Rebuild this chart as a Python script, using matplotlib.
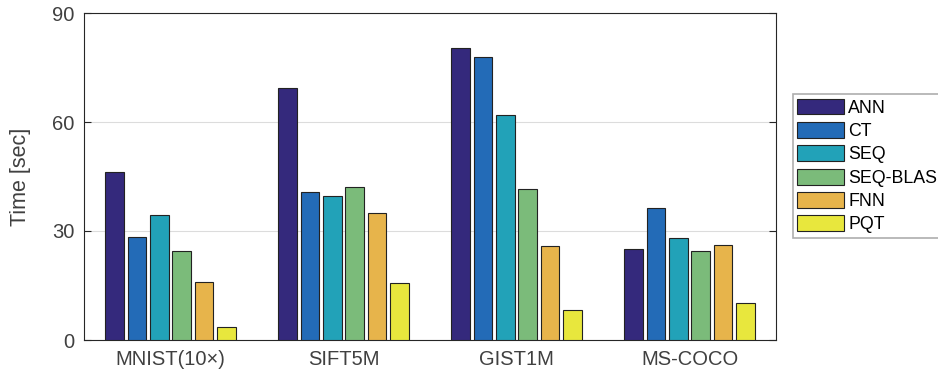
import numpy as np
import matplotlib
matplotlib.use("Agg")
import matplotlib.pyplot as plt

plt.rcParams['font.family'] = ['Liberation Sans', 'DejaVu Sans']

datasets = ["MNIST(10×)", "SIFT5M", "GIST1M", "MS-COCO"]
methods = ["ANN", "CT", "SEQ", "SEQ-BLAS", "FNN", "PQT"]
colors = ["#34297c", "#236bb7", "#22a2b8", "#7bbb7a", "#e7b44b", "#e8e73d"]

ann = [46.2, 69.4, 80.4, 25.0]
ct = [28.4, 40.7, 77.9, 36.3]
seq = [34.3, 39.6, 61.8, 28.0]
seq_blas = [24.6, 42.1, 41.5, 24.6]
fnn = [16.1, 34.9, 25.9, 26.1]
pqt = [3.5, 15.7, 8.3, 10.3]
series = [ann, ct, seq, seq_blas, fnn, pqt]

fig = plt.figure(figsize=(9.38, 3.70), dpi=100)
ax = fig.add_axes([84 / 938, 30 / 370, 692 / 938, 327 / 370])

x = np.arange(1, len(datasets) + 1)
slot = 0.775 / len(methods)
width = slot * 0.83
for i, (name, vals) in enumerate(zip(methods, series)):
    off = (i - (len(methods) - 1) / 2) * slot
    ax.bar(x + off, vals, width, color=colors[i], edgecolor="#222222",
           linewidth=0.8, label=name, zorder=3)

ax.set_xlim(0.5, 4.5)
ax.set_ylim(0, 90)
ax.set_yticks([0, 30, 60, 90])
ax.set_xticks(x)
ax.set_xticklabels(datasets)
ax.set_ylabel("Time [sec]", fontsize=15.5, color="#404040")
ax.yaxis.set_label_coords(-53 / 692, 0.5)
ax.grid(axis="y", color="#dcdcdc", linewidth=0.8, zorder=0)

gray = "#404040"
for sp in ax.spines.values():
    sp.set_color("#262626")
    sp.set_linewidth(0.8)
ax.tick_params(axis="y", direction="in", length=5, right=True,
               labelsize=14.5, colors="#262626", labelcolor=gray, width=0.8,
               pad=7)
ax.tick_params(axis="x", direction="in", length=0, labelsize=14.5,
               labelcolor=gray, pad=7)

leg = ax.legend(loc="upper left", bbox_to_anchor=(1.0246, 0.752),
                borderaxespad=0, fontsize=12.8, frameon=True, fancybox=False,
                edgecolor="#9a9a9a", handlelength=2.6, handleheight=1.0,
                handletextpad=0.25, labelspacing=0.3, borderpad=0.25)
leg.get_frame().set_linewidth(1.2)

fig.savefig("out.png", dpi=100)
